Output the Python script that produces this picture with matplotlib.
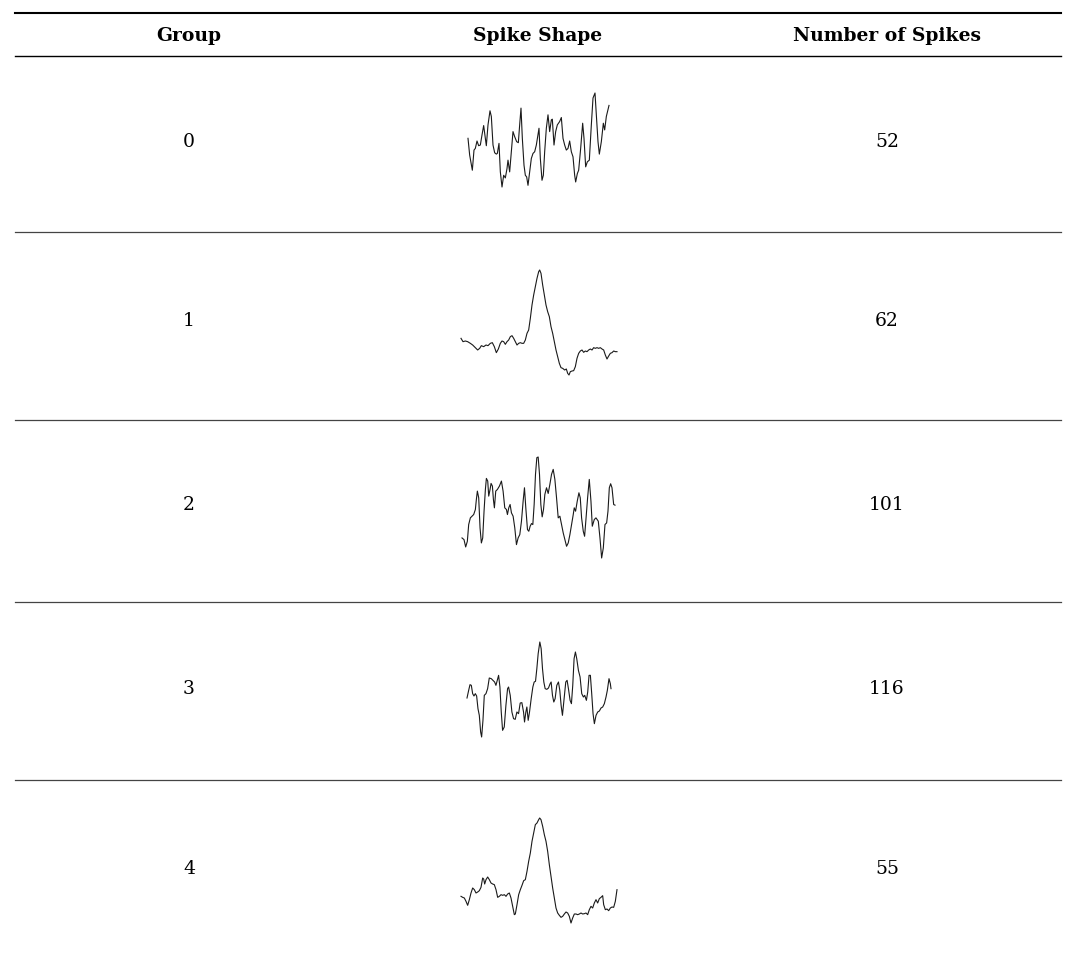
import numpy as np
import matplotlib
matplotlib.use('Agg')
import matplotlib.pyplot as plt

# table content
headers = ['Group', 'Spike Shape', 'Number of Spikes']
groups = ['0', '1', '2', '3', '4']
n_spikes = [52, 62, 101, 116, 55]

# spike waveforms (sample position, amplitude in arbitrary units)
spike0_t = [40, 45, 53, 58, 62, 67, 72, 77, 82, 87, 92, 95, 100, 106, 110, 115, 120, 125, 128, 133,
            137, 142, 147, 152, 157, 160, 165, 170, 175, 180, 186, 191, 195, 199, 203, 208, 212, 216,
            220, 225, 230, 235, 240, 245, 249, 253, 257, 262, 266, 270, 275, 280, 285, 290, 293, 298,
            303, 308, 315, 320, 325, 330, 335, 340, 345, 350, 355, 360, 363, 368, 372, 378, 384, 388,
            393, 398, 404, 410, 415, 421, 425, 430, 434, 440, 446, 450, 455, 463]
spike0_v = [190, 140, 95, 155, 160, 182, 168, 170, 200, 228, 190, 168, 230, 272, 255, 170, 147, 143,
            145, 175, 90, 45, 80, 72, 100, 125, 90, 150, 210, 195, 180, 177, 230, 280, 190, 110, 80,
            75, 50, 90, 130, 145, 150, 170, 195, 220, 130, 65, 80, 150, 220, 260, 210, 245, 247, 170,
            210, 230, 240, 252, 190, 170, 155, 160, 182, 150, 135, 80, 60, 85, 95, 160, 235, 190, 105,
            120, 125, 230, 310, 325, 260, 180, 143, 180, 235, 215, 255, 288]

spike1_t = [32, 38, 45, 52, 60, 67, 75, 82, 88, 93, 100, 107, 113, 120, 126, 132, 138, 144, 150, 155,
            160, 165, 170, 175, 180, 185, 190, 195, 200, 205, 210, 215, 220, 225, 230, 235, 240, 245,
            250, 255, 260, 265, 268, 272, 277, 282, 287, 292, 297, 302, 307, 312, 317, 322, 327, 332,
            337, 343, 348, 352, 356, 360, 365, 370, 375, 380, 385, 390, 395, 400, 405, 410, 415, 420,
            425, 430, 435, 440, 445, 450, 455, 460, 465, 470, 475, 480, 485, 490, 495, 500]
spike1_v = [120, 110, 112, 110, 105, 100, 92, 85, 90, 98, 95, 100, 98, 105, 107, 95, 77, 88, 105, 112,
            110, 102, 110, 115, 125, 128, 120, 110, 100, 105, 107, 105, 105, 115, 135, 145, 180, 220,
            250, 275, 300, 320, 325, 315, 280, 250, 220, 200, 185, 155, 135, 110, 85, 65, 45, 32,
            30, 25, 28, 15, 10, 20, 22, 23, 35, 60, 75, 82, 85, 78, 82, 80, 85, 88,
            85, 92, 90, 92, 90, 92, 88, 85, 70, 58, 67, 75, 77, 82, 80, 80]

spike2_t = [22, 28, 33, 38, 42, 47, 52, 57, 62, 65, 68, 72, 76, 80, 84, 88, 92, 95, 99, 102, 106, 109,
            113, 116, 119, 123, 128, 134, 140, 145, 150, 155, 158, 162, 166, 170, 175, 180, 185, 190,
            195, 200, 205, 209, 213, 218, 222, 226, 230, 234, 238, 242, 246, 250, 254, 258, 262, 266,
            270, 275, 280, 285, 290, 295, 300, 305, 310, 315, 320, 325, 330, 335, 340, 345, 350, 355,
            358, 362, 367, 372, 376, 380, 385, 389, 393, 398, 403, 408, 412, 418, 423, 430, 435, 440,
            445, 450, 455, 459, 463, 467, 471, 476, 480]
spike2_v = [80, 75, 53, 70, 120, 140, 145, 150, 165, 195, 220, 200, 110, 65, 80, 160, 225, 258, 250,
            205, 225, 243, 235, 195, 170, 220, 225, 235, 250, 220, 170, 165, 150, 170, 180, 155, 145,
            110, 60, 80, 90, 130, 190, 230, 170, 105, 100, 115, 123, 120, 180, 270, 320, 322, 270,
            180, 143, 165, 210, 230, 213, 240, 270, 285, 255, 200, 140, 145, 120, 95, 75, 55, 65, 90,
            120, 150, 170, 160, 190, 215, 200, 140, 100, 85, 135, 200, 255, 190, 115, 135, 140, 130,
            80, 20, 50, 120, 125, 160, 230, 242, 230, 180, 178]

spike3_t = [35, 40, 44, 48, 52, 56, 60, 64, 68, 72, 76, 79, 83, 87, 92, 97, 102, 108, 113, 118, 122,
            126, 130, 134, 138, 142, 147, 152, 157, 160, 165, 170, 175, 180, 185, 190, 195, 200, 205,
            208, 212, 215, 219, 223, 228, 233, 237, 241, 245, 249, 254, 258, 262, 266, 270, 275, 280,
            285, 288, 292, 296, 300, 305, 310, 314, 318, 322, 327, 332, 336, 340, 345, 349, 353, 357,
            361, 365, 370, 375, 380, 385, 389, 394, 398, 402, 406, 410, 414, 418, 423, 428, 433, 438,
            443, 448, 453, 457, 462, 466, 468]
spike3_v = [152, 175, 192, 190, 165, 158, 165, 158, 120, 100, 50, 35, 85, 160, 165, 180, 212, 210, 205,
            200, 190, 205, 220, 185, 110, 55, 65, 130, 180, 185, 160, 110, 90, 88, 110, 105, 137, 138,
            110, 80, 110, 125, 85, 110, 150, 185, 200, 202, 240, 285, 320, 300, 240, 200, 180, 178,
            182, 195, 200, 160, 140, 150, 190, 200, 175, 130, 100, 150, 200, 205, 180, 145, 135, 190,
            270, 290, 270, 235, 215, 165, 155, 160, 145, 170, 220, 220, 165, 105, 75, 100, 110, 113,
            122, 125, 135, 155, 175, 210, 195, 180]

spike4_t = [32, 37, 42, 47, 52, 57, 62, 67, 72, 77, 82, 87, 92, 97, 100, 103, 107, 112, 117, 122, 127,
            132, 137, 142, 147, 152, 157, 162, 167, 172, 177, 182, 187, 192, 195, 200, 205, 210, 215,
            220, 225, 230, 235, 240, 245, 250, 255, 260, 265, 268, 272, 277, 282, 287, 292, 297, 302,
            307, 312, 317, 322, 327, 332, 337, 342, 347, 352, 357, 362, 367, 372, 377, 382, 387, 392,
            397, 402, 407, 412, 417, 422, 427, 432, 437, 442, 447, 452, 457, 460, 465, 470, 475, 480,
            485, 490, 495, 500]
spike4_v = [85, 82, 80, 70, 58, 75, 95, 110, 105, 95, 98, 102, 112, 140, 137, 122, 135, 143, 135, 125,
            122, 120, 105, 82, 85, 90, 88, 90, 85, 92, 95, 80, 55, 30, 32, 60, 90, 105, 118, 132,
            135, 160, 190, 215, 250, 275, 300, 305, 315, 320, 315, 295, 270, 250, 220, 180, 145, 110,
            80, 50, 35, 28, 22, 25, 32, 38, 35, 25, 5, 20, 32, 32, 30, 32, 35, 32, 33, 35, 30, 45,
            55, 50, 65, 75, 65, 78, 82, 87, 60, 45, 47, 42, 50, 53, 52, 70, 105]

spikes = [(spike0_t, spike0_v), (spike1_t, spike1_v), (spike2_t, spike2_v),
          (spike3_t, spike3_v), (spike4_t, spike4_v)]

W, H = 1067, 958
fig = plt.figure(figsize=(W / 100, H / 100), dpi=100)
ax = fig.add_axes([0, 0, 1, 1])
ax.set_xlim(0, W)
ax.set_ylim(H, 0)
ax.axis('off')

font = ['DejaVu Serif']
col_x = [189, 538, 887]
x0, x1 = 15, 1061

# rules
ax.plot([x0, x1], [13, 13], color='black', lw=1.5)
ax.plot([x0, x1], [56, 56], color='black', lw=1.0)
for y in [232, 420, 602, 780]:
    ax.plot([x0, x1], [y, y], color='#444444', lw=0.9)

for x, h in zip(col_x, headers):
    ax.text(x, 36, h, ha='center', va='center', fontsize=13.5, fontweight='bold', family=font)

row_y = [142, 321, 505, 689, 869]
for y, g, n in zip(row_y, groups, n_spikes):
    ax.text(col_x[0], y, g, ha='center', va='center', fontsize=13.5, family=font)
    ax.text(col_x[2], y, str(n), ha='center', va='center', fontsize=13.5, family=font)

# spike boxes in pixels: left, top, right, bottom
boxes = [(468, 93, 609, 187), (461, 270, 617, 375), (462, 457, 615, 558),
         (467, 642, 611, 737), (461, 818, 617, 923)]
for (t, v), (l, tp, r, b) in zip(spikes, boxes):
    sax = fig.add_axes([l / W, 1 - b / H, (r - l) / W, (b - tp) / H])
    sax.plot(t, v, color='#1a1a1a', lw=0.8, clip_on=False)
    sax.set_xlim(min(t), max(t))
    sax.set_ylim(min(v), max(v))
    sax.axis('off')

fig.savefig('out.png', dpi=100)
